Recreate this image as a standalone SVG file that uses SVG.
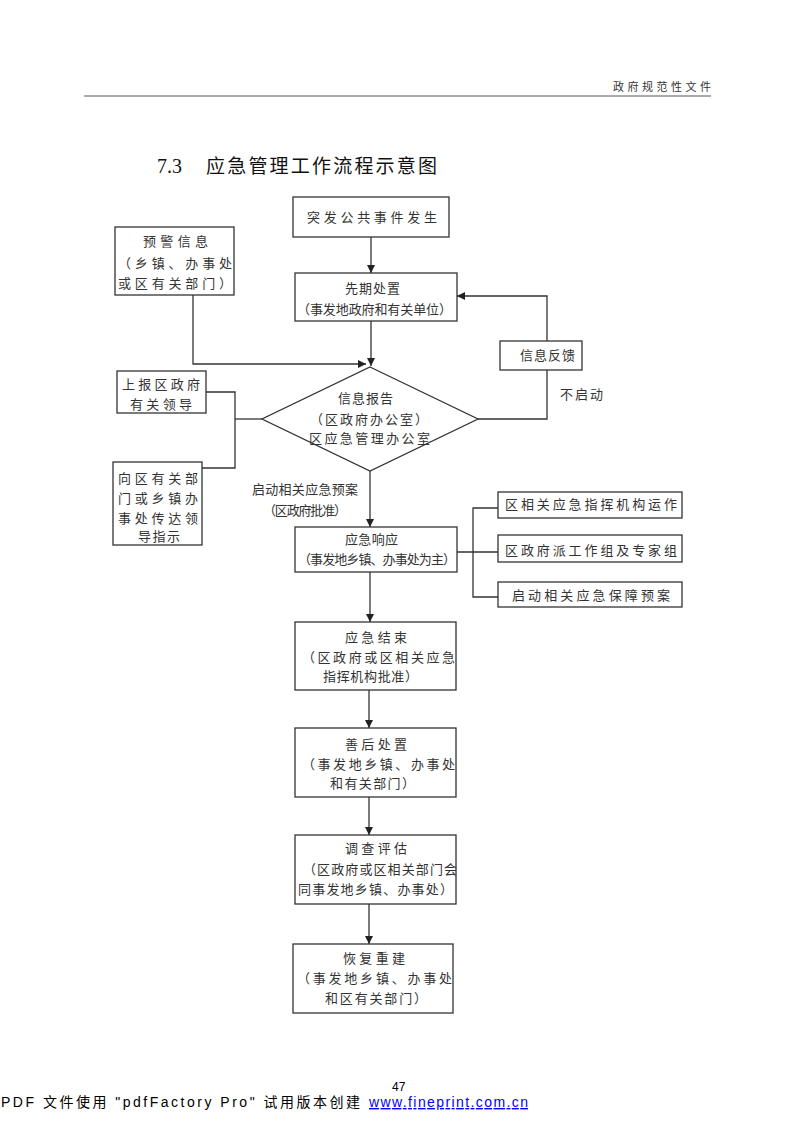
<svg xmlns="http://www.w3.org/2000/svg" width="793" height="1122" viewBox="0 0 793 1122">
<style>
.box{fill:#fff;stroke:#333;stroke-width:1.3}
.ln{fill:none;stroke:#333;stroke-width:1.3}
.t{font-family:"Noto Sans CJK SC","Noto Sans",sans-serif;font-size:13px;fill:#333;text-anchor:start}
.tc{font-family:"Noto Sans CJK SC","Noto Sans",sans-serif;font-size:13px;fill:#333;text-anchor:middle}
</style>
<defs>
<marker id="ah" viewBox="0 0 10 10" refX="10" refY="5" markerWidth="8" markerHeight="8" markerUnits="userSpaceOnUse" orient="auto">
<path d="M0,0 L10,5 L0,10 z" fill="#222"/>
</marker>
</defs>
<rect width="793" height="1122" fill="#fff"/>
<g id="header">
<text x="613" y="91" font-family="'Noto Sans CJK SC',sans-serif" font-size="11" fill="#333" textLength="98" lengthAdjust="spacing">政府规范性文件</text>
<line x1="84" y1="96" x2="711" y2="96" stroke="#555" stroke-width="1"/>
</g>
<g id="title">
<text x="157" y="173" font-family="'Liberation Serif',serif" font-size="20" fill="#111">7.3</text>
<text x="206" y="173" font-family="'Noto Sans CJK SC',sans-serif" font-size="19" fill="#111" textLength="231" lengthAdjust="spacing">应急管理工作流程示意图</text>
</g>
<g id="connectors">
<line class="ln" x1="371" y1="237" x2="371" y2="273" marker-end="url(#ah)"/>
<line class="ln" x1="371" y1="321" x2="371" y2="366" marker-end="url(#ah)"/>
<polyline class="ln" points="193,295 193,364 366,364" marker-end="url(#ah)"/>
<polyline class="ln" points="547,341 547,296 457,296" marker-end="url(#ah)"/>
<polyline class="ln" points="478,419 547,419 547,370"/>
<line class="ln" x1="262" y1="419" x2="235" y2="419"/>
<polyline class="ln" points="206,392 235,392 235,468 202,468"/>
<line class="ln" x1="370" y1="471" x2="370" y2="527" marker-end="url(#ah)"/>
<line class="ln" x1="457" y1="552" x2="498" y2="552"/>
<polyline class="ln" points="498,508 473,508 473,597 498,597"/>
<line class="ln" x1="370" y1="572" x2="370" y2="622" marker-end="url(#ah)"/>
<line class="ln" x1="369" y1="690" x2="369" y2="728" marker-end="url(#ah)"/>
<line class="ln" x1="369" y1="797" x2="369" y2="835" marker-end="url(#ah)"/>
<line class="ln" x1="369" y1="904" x2="369" y2="944" marker-end="url(#ah)"/>
<text class="t" x="252" y="494" textLength="106" lengthAdjust="spacing">启动相关应急预案</text>
<text class="t" x="263" y="515" textLength="84" lengthAdjust="spacing">（区政府批准）</text>
<text class="t" x="560" y="399" textLength="43" lengthAdjust="spacing">不启动</text>
</g>
<g id="n_tufa">
<rect class="box" x="293" y="197" width="156" height="40"/>
<text class="t" x="307" y="222" font-size="14" textLength="130" lengthAdjust="spacing">突发公共事件发生</text>
</g>
<g id="n_yujing">
<rect class="box" x="115" y="227" width="119" height="68"/>
<text class="t" x="143" y="246" textLength="65" lengthAdjust="spacing">预警信息</text>
<text class="t" x="118" y="268" textLength="114" lengthAdjust="spacing">（乡镇、办事处</text>
<text class="t" x="118" y="288" textLength="114" lengthAdjust="spacing">或区有关部门）</text>
</g>
<g id="n_xianqi">
<rect class="box" x="295" y="273" width="162" height="48"/>
<text class="t" x="345" y="293" textLength="55" lengthAdjust="spacing">先期处置</text>
<text class="t" x="297" y="314" textLength="155" lengthAdjust="spacing">（事发地政府和有关单位）</text>
</g>
<g id="n_fankui">
<rect class="box" x="500" y="341" width="82" height="29"/>
<text class="t" x="520" y="360" textLength="55" lengthAdjust="spacing">信息反馈</text>
</g>
<g id="n_baogao">
<polygon class="box" points="370,367 478,419 370,471 262,419"/>
<text class="t" x="338" y="403" textLength="55" lengthAdjust="spacing">信息报告</text>
<text class="t" x="310" y="424" textLength="118" lengthAdjust="spacing">（区政府办公室）</text>
<text class="t" x="309" y="443" textLength="121" lengthAdjust="spacing">区应急管理办公室</text>
</g>
<g id="n_shangbao">
<rect class="box" x="117" y="371" width="89" height="42"/>
<text class="t" x="122" y="389" textLength="78" lengthAdjust="spacing">上报区政府</text>
<text class="t" x="130" y="409" textLength="62" lengthAdjust="spacing">有关领导</text>
</g>
<g id="n_xiangqu">
<rect class="box" x="113" y="462" width="89" height="83"/>
<text class="t" x="118" y="483" textLength="80" lengthAdjust="spacing">向区有关部</text>
<text class="t" x="118" y="503" textLength="80" lengthAdjust="spacing">门或乡镇办</text>
<text class="t" x="118" y="523" textLength="80" lengthAdjust="spacing">事处传达领</text>
<text class="t" x="138" y="541" textLength="42" lengthAdjust="spacing">导指示</text>
</g>
<g id="n_xiangying">
<rect class="box" x="295" y="527" width="162" height="45"/>
<text class="t" x="345" y="544" textLength="53" lengthAdjust="spacing">应急响应</text>
<text class="t" x="298" y="564" textLength="158" lengthAdjust="spacing">（事发地乡镇、办事处为主）</text>
</g>
<g id="n_zhihui">
<rect class="box" x="498" y="492" width="184" height="26"/>
<text class="t" x="505" y="509" textLength="172" lengthAdjust="spacing">区相关应急指挥机构运作</text>
</g>
<g id="n_paigongzuo">
<rect class="box" x="498" y="535" width="184" height="27"/>
<text class="t" x="505" y="555" textLength="172" lengthAdjust="spacing">区政府派工作组及专家组</text>
</g>
<g id="n_baozhang">
<rect class="box" x="498" y="582" width="184" height="25"/>
<text class="t" x="512" y="600" textLength="158" lengthAdjust="spacing">启动相关应急保障预案</text>
</g>
<g id="n_jieshu">
<rect class="box" x="295" y="622" width="161" height="68"/>
<text class="t" x="345" y="642" textLength="62" lengthAdjust="spacing">应急结束</text>
<text class="t" x="302" y="662" textLength="153" lengthAdjust="spacing">（区政府或区相关应急</text>
<text class="t" x="323" y="681" textLength="95" lengthAdjust="spacing">指挥机构批准）</text>
</g>
<g id="n_shanhou">
<rect class="box" x="295" y="728" width="161" height="69"/>
<text class="t" x="345" y="749" textLength="62" lengthAdjust="spacing">善后处置</text>
<text class="t" x="302" y="769" textLength="153" lengthAdjust="spacing">（事发地乡镇、办事处</text>
<text class="t" x="330" y="788" textLength="85" lengthAdjust="spacing">和有关部门）</text>
</g>
<g id="n_diaocha">
<rect class="box" x="295" y="835" width="161" height="69"/>
<text class="t" x="345" y="853" textLength="62" lengthAdjust="spacing">调查评估</text>
<text class="t" x="303" y="874" textLength="154" lengthAdjust="spacing">（区政府或区相关部门会</text>
<text class="t" x="298" y="894" textLength="155" lengthAdjust="spacing">同事发地乡镇、办事处）</text>
</g>
<g id="n_huifu">
<rect class="box" x="293" y="944" width="160" height="69"/>
<text class="t" x="343" y="963" textLength="62" lengthAdjust="spacing">恢复重建</text>
<text class="t" x="297" y="983" textLength="155" lengthAdjust="spacing">（事发地乡镇、办事处</text>
<text class="t" x="325" y="1003" textLength="102" lengthAdjust="spacing">和区有关部门）</text>
</g>
<g id="footer">
<text x="392" y="1091" font-family="'Liberation Sans',sans-serif" font-size="12" fill="#000">47</text>
<text x="1" y="1107" font-family="'Liberation Sans','Noto Sans CJK SC',sans-serif" font-size="14" fill="#000" textLength="359" lengthAdjust="spacing">PDF 文件使用 "pdfFactory Pro" 试用版本创建</text>
<text x="369" y="1107" font-family="'Liberation Sans',sans-serif" font-size="14" fill="#0000ff" text-decoration="underline" textLength="159" lengthAdjust="spacing">www.fineprint.com.cn</text>
</g>
</svg>
